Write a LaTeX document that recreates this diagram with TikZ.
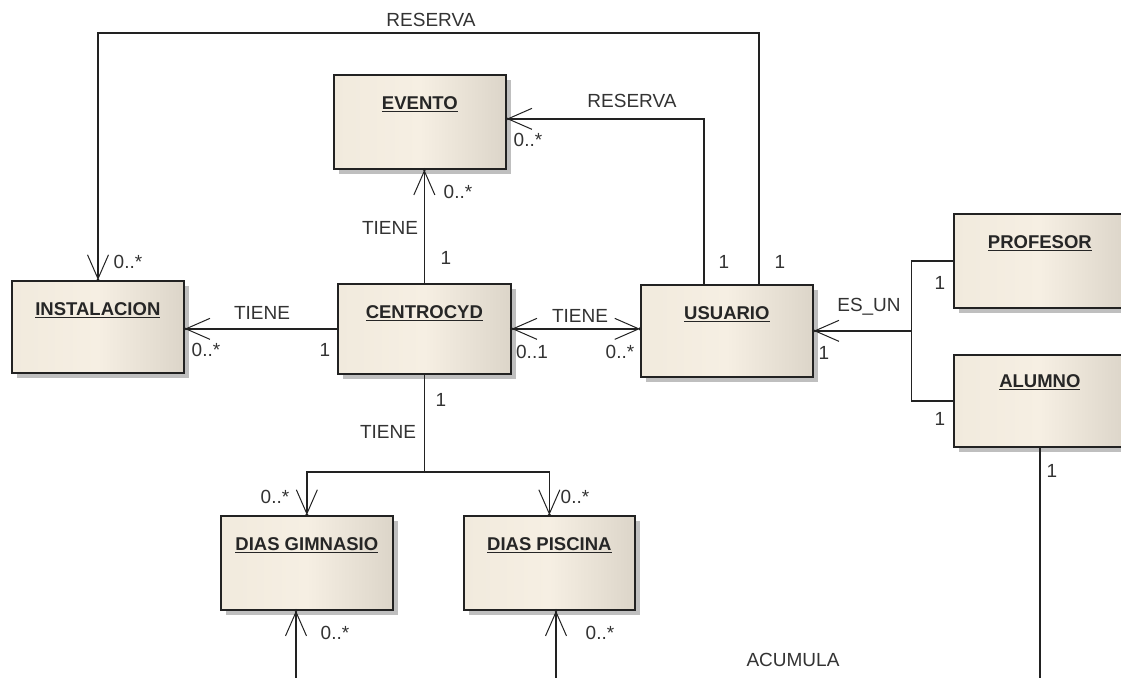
\documentclass[tikz,border=0pt]{standalone}
\usepackage{fontspec}
\setmainfont{Liberation Sans}
\usetikzlibrary{arrows.meta,shadows,calc}
\definecolor{linecol}{HTML}{222222}
\definecolor{txtcol}{HTML}{333333}
\definecolor{boxL}{HTML}{F1EADD}
\definecolor{boxM}{HTML}{F6EFE3}
\definecolor{boxR}{HTML}{DCD5C9}
\tikzset{
  navi/.tip={Straight Barb[length=24pt,width=21pt,line width=1pt]},
  entity/.style={draw=linecol, line width=1.7pt, anchor=north west,
    minimum width=172pt, minimum height=93pt, inner sep=0pt,
    left color=boxL, right color=boxR, middle color=boxM,
    drop shadow={shadow xshift=5pt, shadow yshift=-5pt, fill=black, opacity=0.25}},
  ttl/.style={font=\fontsize{18.5}{20}\selectfont\bfseries, text=black!85,
    text height=13.3pt, text depth=0pt, inner sep=0pt, anchor=center, yshift=-29pt},
  lbl/.style={font=\fontsize{19}{21}\selectfont, text=txtcol,
    text height=13.6pt, text depth=0pt, inner sep=0pt},
  conn/.style={draw=linecol, line width=1.5pt},
  assoc/.style={conn, -navi},
  bothways/.style={conn, navi-navi},
  tipdot/.style={circle, fill=linecol, inner sep=0pt, minimum size=3.5pt},
}
\begin{document}
\begin{tikzpicture}[x=1pt,y=-1pt]
\useasboundingbox[fill=white] (0,0) rectangle (1121,677);

% entities
\node[entity, minimum height=94pt, label={[ttl,name=eventoT]north:\underline{EVENTO}}] (evento) at (333,74) {};
\node[entity, minimum height=92pt, label={[ttl,name=instalacionT]north:\underline{INSTALACION}}] (instalacion) at (11,280) {};
\node[entity, minimum height=90pt, minimum width=173pt, label={[ttl,name=centrocydT]north:\underline{CENTROCYD}}] (centrocyd) at (337,283) {};
\node[entity, minimum height=92pt, label={[ttl,name=usuarioT]north:\underline{USUARIO}}] (usuario) at (640,284) {};
\node[entity, minimum height=94pt, label={[ttl,name=profesorT]north:\underline{PROFESOR}}] (profesor) at (953,213) {};
\node[entity, minimum height=92pt, label={[ttl,name=alumnoT,yshift=2pt]north:\underline{ALUMNO}}] (alumno) at (953,354) {};
\node[entity, minimum height=94pt, label={[ttl,name=gimnasioT]north:\underline{DIAS GIMNASIO}}] (gimnasio) at (220,515) {};
\node[entity, minimum height=94pt, minimum width=171pt, label={[ttl,name=piscinaT]north:\underline{DIAS PISCINA}}] (piscina) at (463,515) {};

% free ends
\coordinate (esun) at ([xshift=98pt]usuario.east);
\coordinate (split) at (centrocyd.south |- 0,472);
\coordinate (gIn) at (296,680);
\coordinate (pIn) at (556,680);
\coordinate (aOut) at (alumno.south |- 0,680);

% connectors
\draw[assoc] ([xshift=119pt]usuario.north west) -- ++(0,-251) -| ([xshift=87pt]instalacion.north west) node[tipdot] (d1) {};
\draw[assoc] ([xshift=64pt]usuario.north west) |- ([yshift=3pt]evento.east) node[tipdot] (d2) {};
\draw[assoc] (centrocyd.north) -- (centrocyd.north |- evento.south) node[tipdot] (d3) {};
\draw[assoc] (centrocyd.west) -- (centrocyd.west -| instalacion.east) node[tipdot] (d4) {};
\draw[bothways] (centrocyd.east) node[tipdot] (d5) {} -- (centrocyd.east -| usuario.west) node[tipdot] (d6) {};
\draw[assoc] (esun) -- (usuario.east) node[tipdot] (d7) {};
\draw[conn] (profesor.west) -| (esun) |- (alumno.west);
\draw[assoc] (centrocyd.south) -- (split) -| (gimnasio.north) node[tipdot] (d8) {};
\draw[assoc] (split) -| (piscina.north) node[tipdot] (d9) {};
\draw[assoc] (gIn) -- (gIn |- gimnasio.south) node[tipdot] (d10) {};
\draw[assoc] (pIn) -- (pIn |- piscina.south) node[tipdot] (d11) {};
\draw[conn] (alumno.south) -- (aOut);

% labels
\node[lbl] (l1) at (431,20) {RESERVA};
\node[lbl] (l2) at (632,101) {RESERVA};
\node[lbl] (l3) at (528,140) {0..*};
\node[lbl] (l4) at (458,192) {0..*};
\node[lbl] (l5) at (390,228) {TIENE};
\node[lbl] (l6) at (446,258) {1};
\node[lbl] (l7) at (128,262) {0..*};
\node[lbl] (l8) at (724,262) {1};
\node[lbl] (l9) at (780,262) {1};
\node[lbl] (l10) at (262,313) {TIENE};
\node[lbl] (l11) at (206,350) {0..*};
\node[lbl] (l12) at (325,350) {1};
\node[lbl] (l13) at (580,316) {TIENE};
\node[lbl] (l14) at (532,352) {0..1};
\node[lbl] (l15) at (620,352) {0..*};
\node[lbl] (l16) at (869,305) {ES\_UN};
\node[lbl] (l17) at (824,353) {1};
\node[lbl] (l18) at (940,283) {1};
\node[lbl] (l19) at (940,419) {1};
\node[lbl] (l20) at (1052,471) {1};
\node[lbl] (l21) at (441,400) {1};
\node[lbl] (l22) at (388,432) {TIENE};
\node[lbl] (l23) at (275,497) {0..*};
\node[lbl] (l24) at (575,497) {0..*};
\node[lbl] (l25) at (335,633) {0..*};
\node[lbl] (l26) at (600,633) {0..*};
\node[lbl] (l27) at (793,660) {ACUMULA};
\end{tikzpicture}
\end{document}
